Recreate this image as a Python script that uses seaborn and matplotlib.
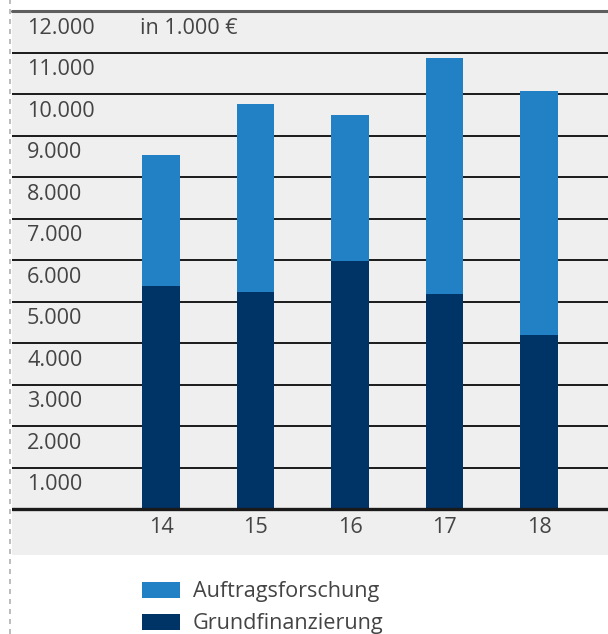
import matplotlib
matplotlib.use("Agg")
import matplotlib.pyplot as plt
from matplotlib.lines import Line2D
from matplotlib.patches import Rectangle
import seaborn as sns
import pandas as pd

years = ["14", "15", "16", "17", "18"]
grundfinanzierung = [5370, 5230, 5980, 5180, 4190]
total = [8530, 9760, 9490, 10870, 10070]
auftragsforschung = [t - g for t, g in zip(total, grundfinanzierung)]
ytick_values = [1000, 2000, 3000, 4000, 5000, 6000, 7000, 8000, 9000, 10000, 11000, 12000]
ytick_labels = ["1.000", "2.000", "3.000", "4.000", "5.000", "6.000", "7.000",
                "8.000", "9.000", "10.000", "11.000", "12.000"]
unit_label = "in 1.000 €"
legend_labels = ["Auftragsforschung", "Grundfinanzierung"]

LIGHT = "#2281c4"
DARK = "#003366"
BG = "#efefef"
TXT = "#444444"

sns.set_theme(style="white")
plt.rcParams["font.family"] = ["Open Sans", "DejaVu Sans"]

W, H = 608, 634
fig = plt.figure(figsize=(W / 100, H / 100), dpi=100)
ax = fig.add_axes([12 / W, 1 - 555 / H, (W - 12) / W, 544 / H])
ax.set_facecolor(BG)

df = pd.DataFrame({"year": years, "total": total, "grund": grundfinanzierung,
                   "auftrag": auftragsforschung})
sns.barplot(data=df, x="year", y="total", color=LIGHT, width=0.4, linewidth=0,
            saturation=1, ax=ax, zorder=3)
sns.barplot(data=df, x="year", y="grund", color=DARK, width=0.4, linewidth=0,
            saturation=1, ax=ax, zorder=4)

ax.set_xlim(-1.577, 4.73)
ax.set_ylim(-1108, 12000)

for v in ytick_values[:-1]:
    ax.axhline(v, color="#1a1a1a", lw=1.4, zorder=2)
ax.axhline(12000, color="#5e5e5e", lw=2.2, zorder=2, clip_on=False)
ax.axhline(0, color="#1a1a1a", lw=2.4, zorder=5)

for s in ax.spines.values():
    s.set_visible(False)
ax.set_xticks([])
ax.set_yticks([])
ax.set_xlabel("")
ax.set_ylabel("")

fs = 15.6
fw = "normal"
for v, lab in zip(ytick_values, ytick_labels):
    ax.text(15 / (W - 12), v - 410, lab, transform=ax.get_yaxis_transform(),
            ha="left", va="center", fontsize=fs, color=TXT, fontweight=fw, zorder=6)
ax.text((140 - 12) / (W - 12), 12000 - 410, unit_label, transform=ax.get_yaxis_transform(),
        ha="left", va="center", fontsize=fs, color=TXT, fontweight=fw, zorder=6)

for i, y in enumerate(years):
    ax.text(i, -440, y, ha="center", va="center", fontsize=fs, color=TXT, fontweight=fw)

# dashed left border
fig.add_artist(Line2D([10 / W, 10 / W], [0, 1], color="#b0b0b0", lw=1.2,
                      linestyle=(0, (3, 3))))

# legend
for k, (lab, col) in enumerate(zip(legend_labels, [LIGHT, DARK])):
    y0 = 582 + k * 32
    fig.add_artist(Rectangle((142 / W, 1 - (y0 + 15.5) / H), 38 / W, 15.5 / H,
                             transform=fig.transFigure, color=col, lw=0))
    fig.text(193 / W, 1 - (y0 + 9) / H, lab, ha="left", va="center",
             fontsize=fs, color=TXT, fontweight=fw)

fig.savefig("out.png", dpi=100, facecolor="white")
